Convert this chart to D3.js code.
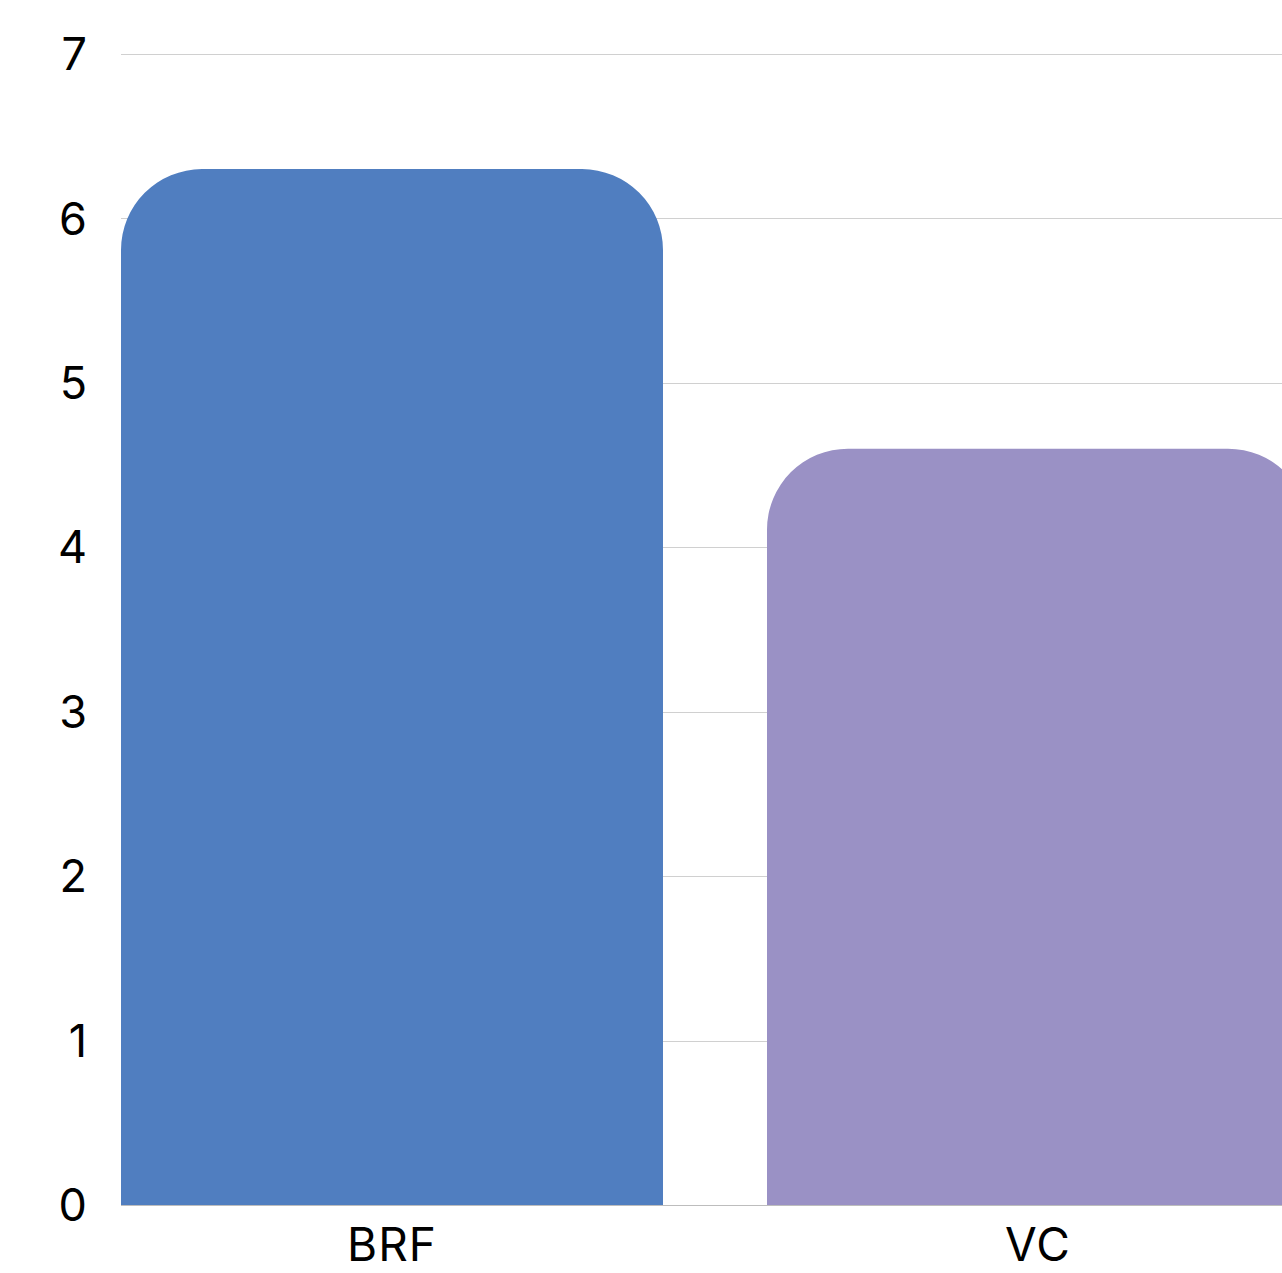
<!DOCTYPE html>
<html>
<head>
<meta charset="utf-8">
<script src="https://cdn.jsdelivr.net/npm/d3@7"></script>
<style>
  html, body { margin: 0; padding: 0; background: #fff; overflow: hidden; }
  svg { display: block; }
  text { font-family: Inter, "Noto Sans", sans-serif; fill: #000; }
</style>
</head>
<body>
<svg id="chart" width="1282" height="1273"></svg>
<script>
// Chart data
const categories = ["BRF", "VC"];
const values = [6.3, 4.6];
const barColors = ["#507EC0", "#9A91C5"];
const yTicks = [0, 1, 2, 3, 4, 5, 6, 7];

const svg = d3.select("#chart");
const margin = { top: 54, left: 121, bottom: 68 };
const height = 1273;
const plotRight = 1309; // plot runs slightly past the window edge

const x = d3.scaleBand()
  .domain(categories)
  .range([margin.left, plotRight])
  .paddingInner(0.161)
  .paddingOuter(0);

const y = d3.scaleLinear()
  .domain([0, 7])
  .range([height - margin.bottom, margin.top]);

// Horizontal gridlines
svg.append("g")
  .selectAll("line")
  .data(yTicks.filter(d => d > 0))
  .join("line")
  .attr("x1", margin.left)
  .attr("x2", plotRight)
  .attr("y1", d => Math.round(y(d)) + 0.5)
  .attr("y2", d => Math.round(y(d)) + 0.5)
  .attr("stroke", "#d0d0d0")
  .attr("stroke-width", 1);

// Baseline
svg.append("line")
  .attr("x1", margin.left)
  .attr("x2", plotRight)
  .attr("y1", Math.round(y(0)) + 0.5)
  .attr("y2", Math.round(y(0)) + 0.5)
  .attr("stroke", "#bdbdbd")
  .attr("stroke-width", 1);

// Bars with rounded top corners
const r = 81;
function barPath(d, i) {
  const x0 = x(categories[i]);
  const x1 = x0 + x.bandwidth();
  const y0 = y(0);
  const yt = y(d);
  return `M${x0},${y0} L${x0},${yt + r} A${r},${r} 0 0 1 ${x0 + r},${yt}` +
         ` L${x1 - r},${yt} A${r},${r} 0 0 1 ${x1},${yt + r} L${x1},${y0} Z`;
}
svg.append("g")
  .selectAll("path")
  .data(values)
  .join("path")
  .attr("d", (d, i) => barPath(d, i))
  .attr("fill", (d, i) => barColors[i]);

// Y tick labels
svg.append("g")
  .selectAll("text")
  .data(yTicks)
  .join("text")
  .attr("x", 87)
  .attr("y", d => y(d))
  .attr("dy", "0.36em")
  .attr("text-anchor", "end")
  .attr("font-size", 45)
  .text(d => d);

// Category labels
svg.append("g")
  .selectAll("text")
  .data(categories)
  .join("text")
  .attr("x", d => x(d) + x.bandwidth() / 2)
  .attr("y", 1261)
  .attr("text-anchor", "middle")
  .attr("font-size", 46)
  .attr("letter-spacing", 1)
  .text(d => d);
</script>
</body>
</html>
